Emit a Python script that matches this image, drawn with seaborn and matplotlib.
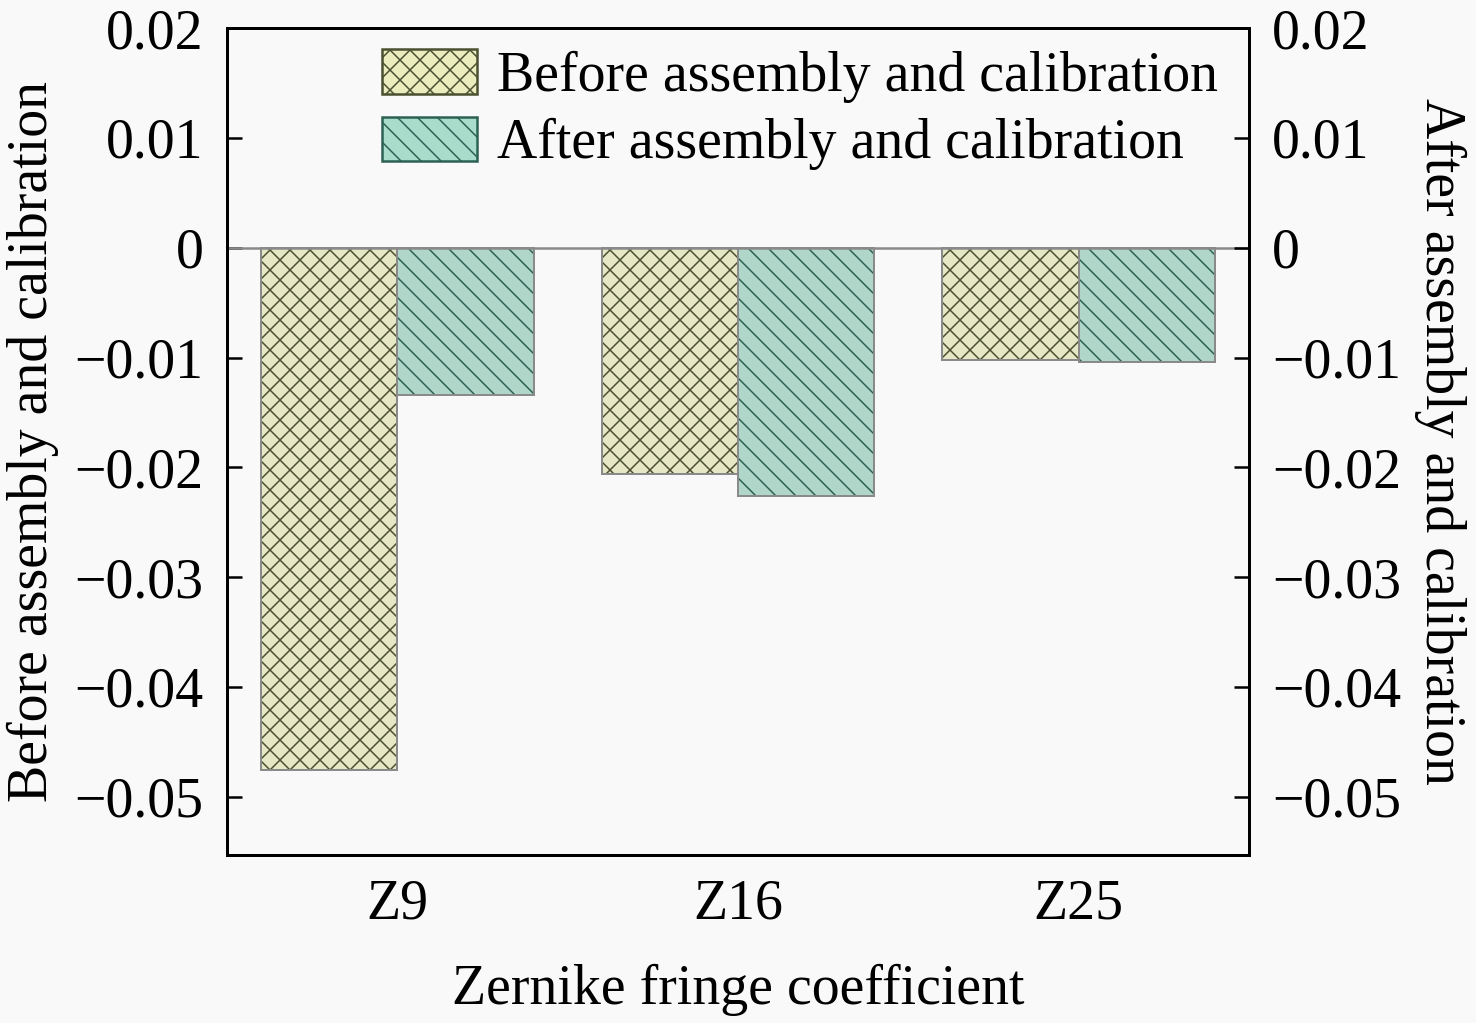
import numpy as np
import pandas as pd
import seaborn as sns
import matplotlib.pyplot as plt
import matplotlib.patches as mpatches

# data
coefficients = ["Z9", "Z16", "Z25"]
before_values = [-0.0476, -0.0206, -0.0102]
after_values = [-0.0134, -0.0226, -0.0104]
series_names = ["Before assembly and calibration", "After assembly and calibration"]
ytick_values = [0.02, 0.01, 0.0, -0.01, -0.02, -0.03, -0.04, -0.05]

fill_colors = ["#ebedbf", "#a9dccb"]
hatch_colors = ["#4a5030", "#2c6253"]
hatches = ["xx", "\\\\"]

df = pd.DataFrame({
    "coef": coefficients * 2,
    "value": before_values + after_values,
    "series": [series_names[0]] * 3 + [series_names[1]] * 3,
})

sns.set_style("white")
plt.rcParams["font.family"] = ["Liberation Serif", "DejaVu Serif"]
plt.rcParams["hatch.linewidth"] = 0.9
plt.rcParams["axes.facecolor"] = "#f9f9f9"
plt.rcParams["figure.facecolor"] = "#f9f9f9"
plt.rcParams["text.color"] = "black"
plt.rcParams["axes.labelcolor"] = "black"
plt.rcParams["xtick.color"] = "black"
plt.rcParams["ytick.color"] = "black"

fs = 33.5
fig = plt.figure(figsize=(12.3, 8.525), dpi=120)
ax = fig.add_axes([0.1538, 0.1642, 0.6924, 0.8084])

sns.barplot(data=df, x="coef", y="value", hue="series", palette=fill_colors,
            width=0.8, legend=False, ax=ax)

# hatch colour follows edgecolor, so put the outline on a separate patch
for cont, hc, h in zip(ax.containers, hatch_colors, hatches):
    for p in cont:
        p.set_hatch(h)
        p.set_edgecolor(hc)
        p.set_linewidth(0)
        ax.add_patch(mpatches.Rectangle(p.get_xy(), p.get_width(), p.get_height(),
                                        fill=False, edgecolor="#8a8a8a", lw=1.2, zorder=3))

ax.axhline(0, color="#8a8a8a", lw=1.5, zorder=4)
ax.set_xlim(-0.5, 2.5)
ax.set_ylim(-0.0553, 0.02)

def fmt(v):
    if v == 0:
        return "0"
    return f"{v:.2f}".replace("-", "\u2212")

ax.set_yticks(ytick_values)
ax.set_yticklabels([fmt(v) for v in ytick_values])
ax.tick_params(axis="both", direction="in", length=9, width=1.5, labelsize=fs, pad=14)
ax.set_xlabel("Zernike fringe coefficient", fontsize=fs, labelpad=20)
ax.set_ylabel("Before assembly and calibration", fontsize=fs, va="center")
ax.yaxis.set_label_coords(-0.19, 0.5)

for s in ax.spines.values():
    s.set_linewidth(1.8)
    s.set_color("black")

ax2 = ax.twinx()
ax2.set_ylim(ax.get_ylim())
ax2.set_yticks(ytick_values)
ax2.set_yticklabels([fmt(v) for v in ytick_values])
ax2.tick_params(axis="y", direction="in", length=9, width=1.5, labelsize=fs, pad=14)
ax2.set_ylabel("After assembly and calibration", fontsize=fs, rotation=270, va="center")
ax2.yaxis.set_label_coords(1.187, 0.5)
for s in ax2.spines.values():
    s.set_linewidth(1.8)
    s.set_color("black")

handles = [mpatches.Patch(facecolor=fc, edgecolor=hc, hatch=h, lw=1.5)
           for fc, hc, h in zip(fill_colors, hatch_colors, hatches)]
ax2.legend(handles, series_names, loc="upper right", fontsize=fs, frameon=False,
           handlelength=1.7, handleheight=0.85, handletextpad=0.35, labelspacing=0.25,
           borderaxespad=0.2, bbox_to_anchor=(1.002, 1.015))

fig.savefig("out.png", dpi=120, facecolor=fig.get_facecolor())
